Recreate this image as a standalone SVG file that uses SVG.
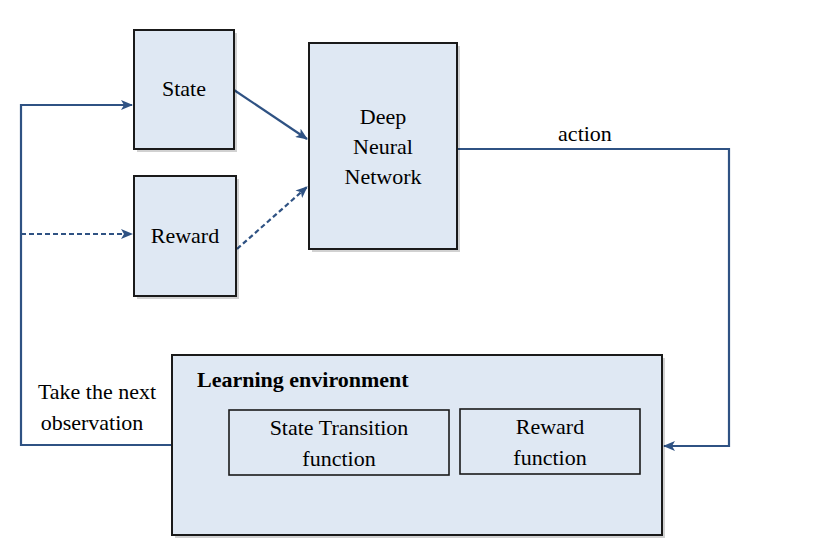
<svg xmlns="http://www.w3.org/2000/svg" width="836" height="560" viewBox="0 0 836 560">
<defs>
<marker id="ah" viewBox="0 0 12 10" refX="11" refY="5" markerWidth="12" markerHeight="10" markerUnits="userSpaceOnUse" orient="auto">
<path d="M0,0 L12,5 L0,10 L3,5 Z" fill="#2f5283"/>
</marker>
</defs>
<rect width="836" height="560" fill="#fff"/>
<g id="connectors" fill="none" stroke="#2f5283" stroke-width="2.2">
<path d="M172,445 H21 V105 H132" marker-end="url(#ah)"/>
<path d="M21,234 H132" stroke-dasharray="5,3" marker-end="url(#ah)"/>
<path d="M234,90 L307,139" marker-end="url(#ah)"/>
<path d="M237,249 L307,187" stroke-dasharray="5,3" marker-end="url(#ah)"/>
<path d="M457,149 H729 V446 H664" marker-end="url(#ah)"/>
</g>
<g id="state">
<rect x="137" y="33" width="100" height="119" fill="#000" opacity="0.18"/>
<rect x="134" y="30" width="100" height="119" fill="#dfe8f3" stroke="#1a1a1a" stroke-width="2"/>
<text font-family="Liberation Serif, Times New Roman, serif" font-size="22" x="184" y="96" text-anchor="middle">State</text>
</g>
<g id="reward">
<rect x="137" y="179" width="102" height="120" fill="#000" opacity="0.18"/>
<rect x="134" y="176" width="102" height="120" fill="#dfe8f3" stroke="#1a1a1a" stroke-width="2"/>
<text font-family="Liberation Serif, Times New Roman, serif" font-size="22" x="185" y="243" text-anchor="middle">Reward</text>
</g>
<g id="dnn">
<rect x="312" y="46" width="148" height="206" fill="#000" opacity="0.18"/>
<rect x="309" y="43" width="148" height="206" fill="#dfe8f3" stroke="#1a1a1a" stroke-width="2"/>
<text font-family="Liberation Serif, Times New Roman, serif" font-size="22" x="383" y="124" text-anchor="middle">Deep</text>
<text font-family="Liberation Serif, Times New Roman, serif" font-size="22" x="383" y="154" text-anchor="middle">Neural</text>
<text font-family="Liberation Serif, Times New Roman, serif" font-size="22" x="383" y="184" text-anchor="middle">Network</text>
</g>
<g id="env">
<rect x="175" y="358" width="490" height="180" fill="#000" opacity="0.18"/>
<rect x="172" y="355" width="490" height="180" fill="#dfe8f3" stroke="#1a1a1a" stroke-width="2"/>
<text font-family="Liberation Serif, Times New Roman, serif" font-size="22" font-weight="bold" x="197" y="387">Learning environment</text>
<rect x="229" y="410" width="220" height="65" fill="none" stroke="#1a1a1a" stroke-width="1.6"/>
<text font-family="Liberation Serif, Times New Roman, serif" font-size="22" x="339" y="435" text-anchor="middle">State Transition</text>
<text font-family="Liberation Serif, Times New Roman, serif" font-size="22" x="339" y="466" text-anchor="middle">function</text>
<rect x="460" y="409" width="180" height="65" fill="none" stroke="#1a1a1a" stroke-width="1.6"/>
<text font-family="Liberation Serif, Times New Roman, serif" font-size="22" x="550" y="434" text-anchor="middle">Reward</text>
<text font-family="Liberation Serif, Times New Roman, serif" font-size="22" x="550" y="465" text-anchor="middle">function</text>
</g>
<g id="labels">
<text font-family="Liberation Serif, Times New Roman, serif" font-size="22" x="585" y="141" text-anchor="middle">action</text>
<text font-family="Liberation Serif, Times New Roman, serif" font-size="22" x="97" y="399" text-anchor="middle">Take the next</text>
<text font-family="Liberation Serif, Times New Roman, serif" font-size="22" x="92" y="430" text-anchor="middle">observation</text>
</g>
</svg>
